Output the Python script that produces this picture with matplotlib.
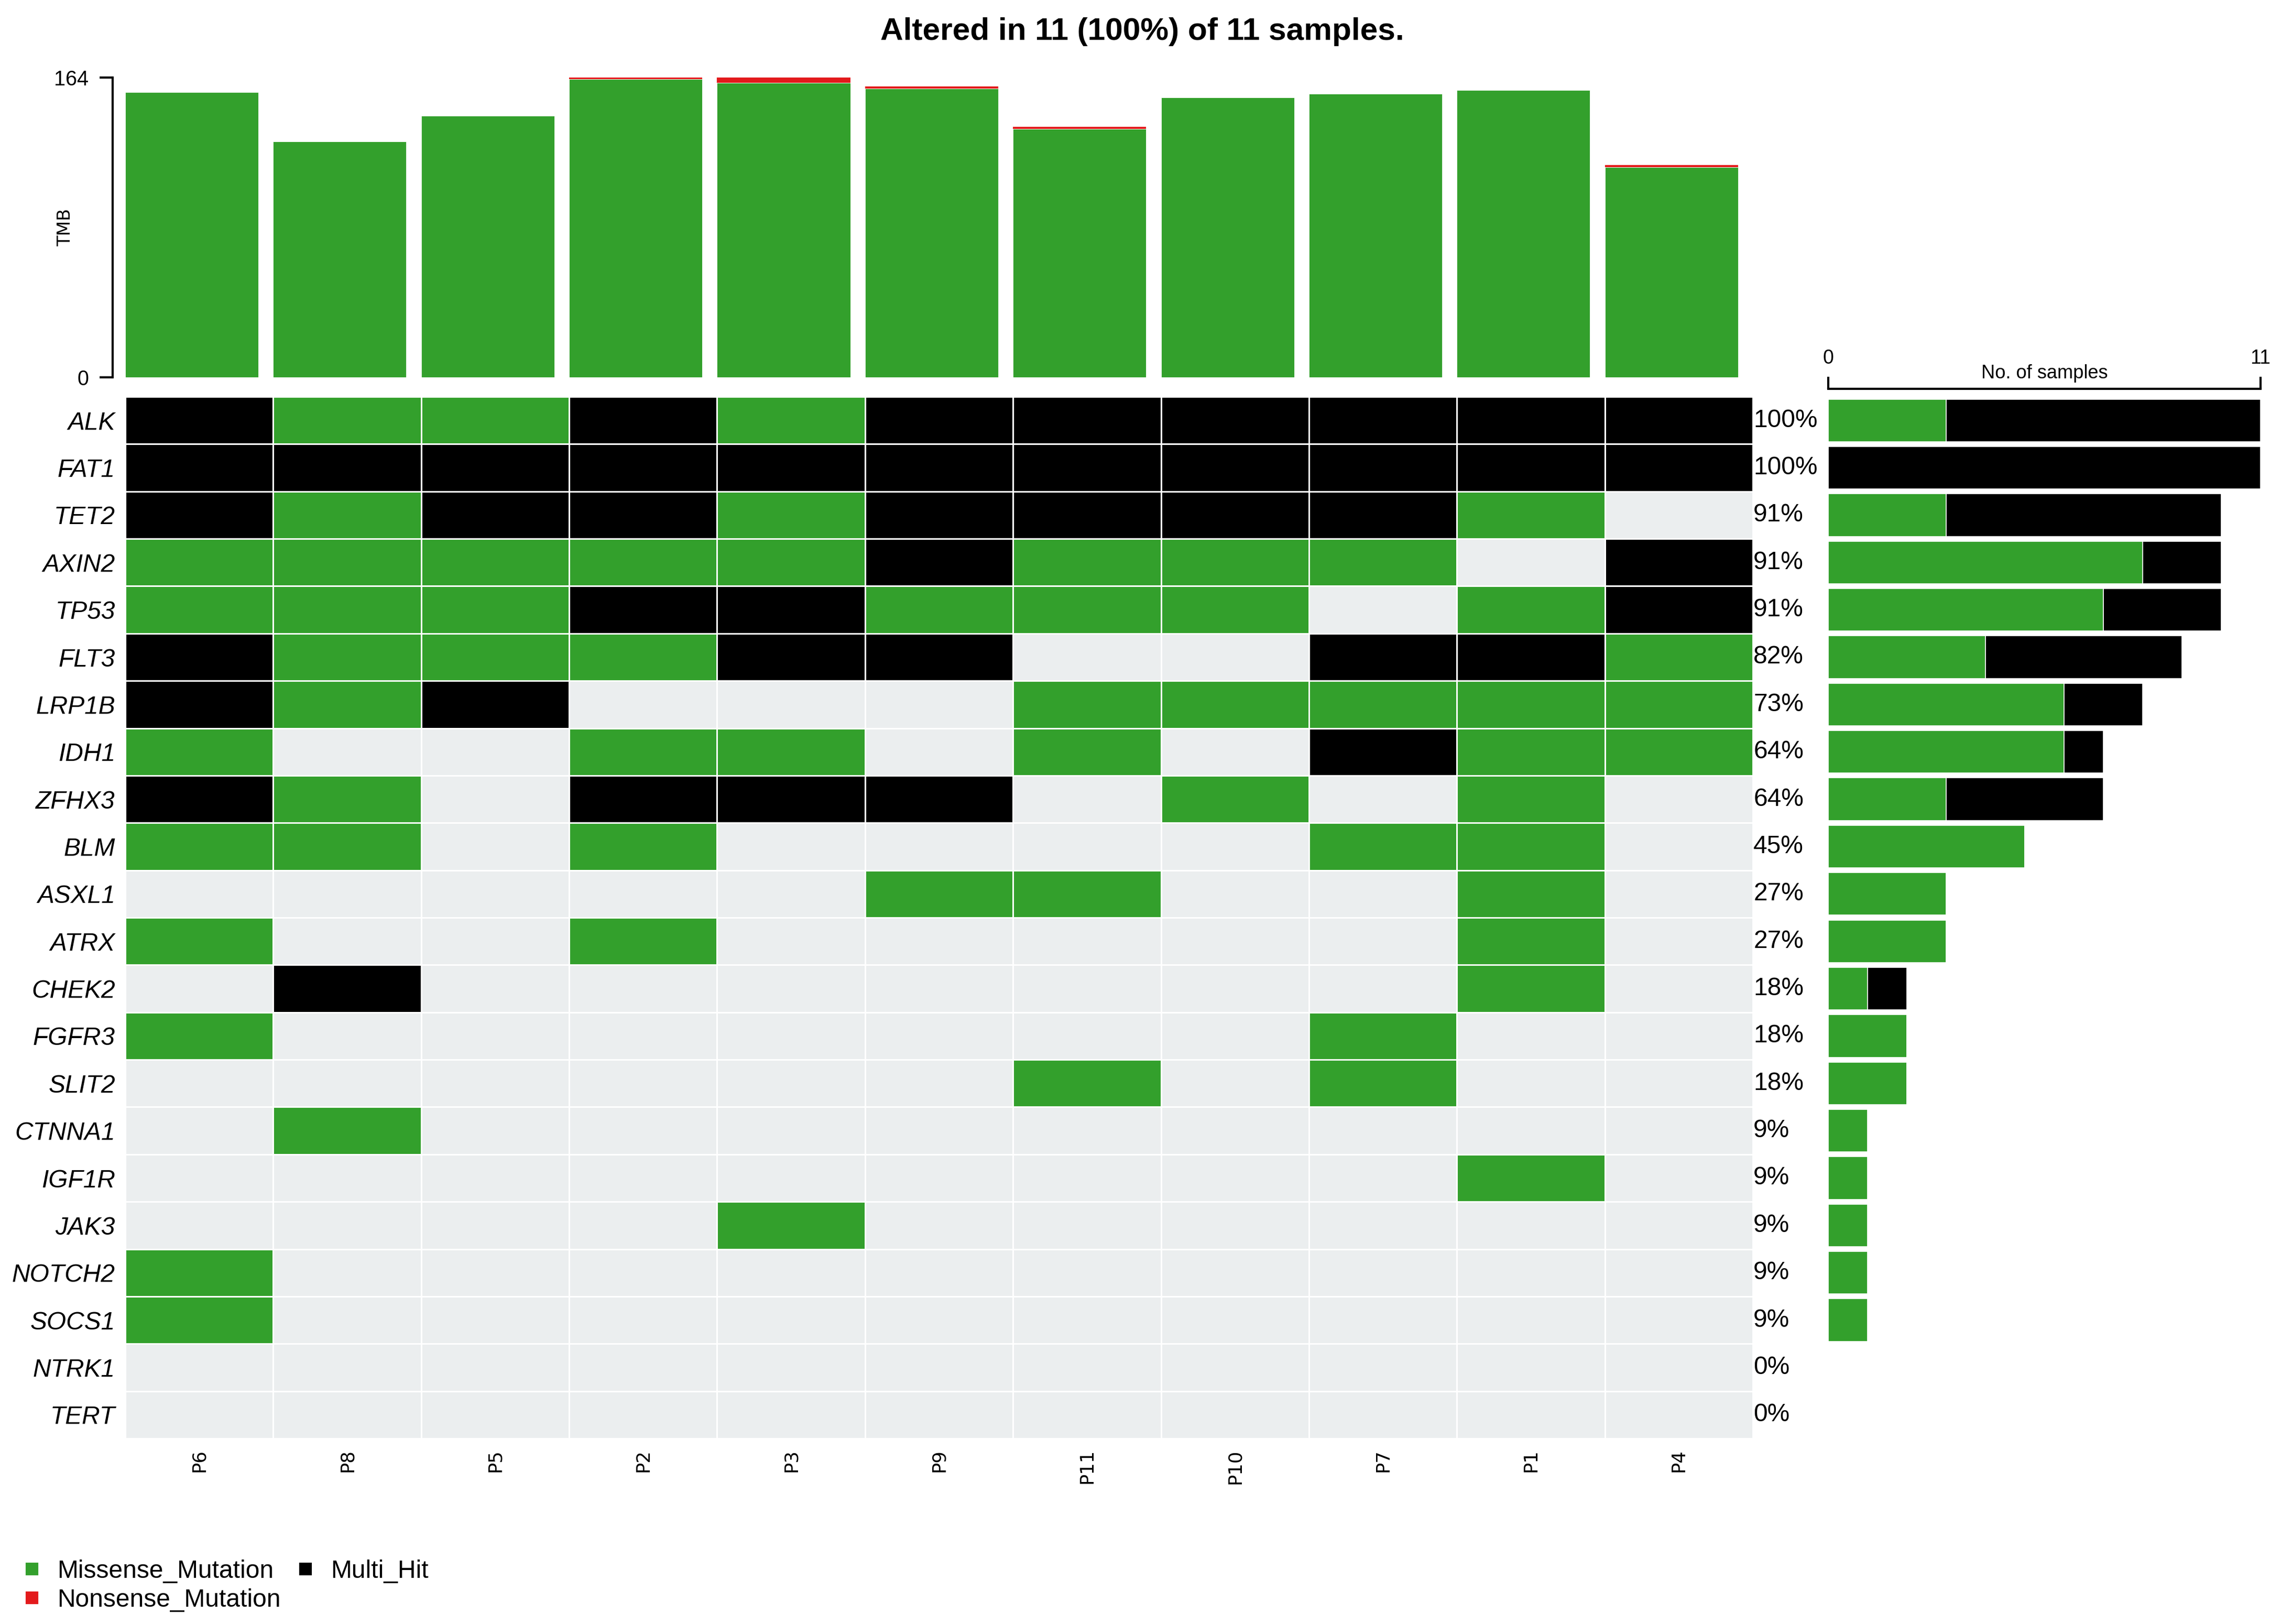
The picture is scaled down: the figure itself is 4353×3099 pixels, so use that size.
import numpy as np
import matplotlib
matplotlib.use('Agg')
import matplotlib.pyplot as plt
from matplotlib.colors import ListedColormap
from matplotlib.lines import Line2D

plt.rcParams['font.family'] = ['Liberation Sans', 'DejaVu Sans']

# oncoplot data (sample order as drawn)
samples = ['P6', 'P8', 'P5', 'P2', 'P3', 'P9', 'P11', 'P10', 'P7', 'P1', 'P4']
genes = ['ALK', 'FAT1', 'TET2', 'AXIN2', 'TP53', 'FLT3', 'LRP1B', 'IDH1', 'ZFHX3',
         'BLM', 'ASXL1', 'ATRX', 'CHEK2', 'FGFR3', 'SLIT2', 'CTNNA1', 'IGF1R',
         'JAK3', 'NOTCH2', 'SOCS1', 'NTRK1', 'TERT']
# M = Missense_Mutation, H = Multi_Hit, . = none
calls = ['HMMHMHHHHHH',
         'HHHHHHHHHHH',
         'HMHHMHHHHM.',
         'MMMMMHMMM.H',
         'MMMHHMMM.MH',
         'HMMMHH..HHM',
         'HMH...MMMMM',
         'M..MM.M.HMM',
         'HM.HHH.M.M.',
         'MM.M....MM.',
         '.....MM..M.',
         'M..M.....M.',
         '.H.......M.',
         'M.......M..',
         '......M.M..',
         '.M.........',
         '.........M.',
         '....M......',
         'M..........',
         'M..........',
         '...........',
         '...........']

tmb_missense = [156, 129, 143, 163, 161, 158, 136, 153, 155, 157, 115]
tmb_nonsense = [0, 0, 0, 1, 3, 1, 1, 0, 0, 0, 1]

green = '#33A02C'
red = '#E31A1C'
black = '#000000'
empty = '#EBEEEF'

code = {'.': 0, 'M': 1, 'H': 2}
mat = np.array([[code[c] for c in row] for row in calls])
n_miss = (mat == 1).sum(axis=1)
n_multi = (mat == 2).sum(axis=1)
n_samp = len(samples)

W, H = 4353, 3099
fig = plt.figure(figsize=(W / 300, H / 300), dpi=300)

def box(x0, y0, x1, y1):
    return [x0 / W, 1 - y1 / H, (x1 - x0) / W, (y1 - y0) / H]

# TMB bar panel
ax_tmb = fig.add_axes(box(239, 148, 3345, 720))
xs = np.arange(n_samp)
ax_tmb.bar(xs - 0.5, tmb_missense, width=0.9, align='edge', color=green,
           edgecolor='white', linewidth=0.2)
ax_tmb.bar(xs - 0.5, tmb_nonsense, bottom=tmb_missense, width=0.9, align='edge',
           color=red, edgecolor='none')
ax_tmb.set_xlim(-0.5, n_samp - 0.5)
ymax = max(np.array(tmb_missense) + np.array(tmb_nonsense))
ax_tmb.set_ylim(0, ymax)
ax_tmb.set_yticks([0, ymax])
ax_tmb.set_xticks([])
for s in ['top', 'right', 'bottom']:
    ax_tmb.spines[s].set_visible(False)
ax_tmb.spines['left'].set_position(('outward', 5.8))
ax_tmb.spines['left'].set_linewidth(1.0)
ax_tmb.tick_params(axis='y', length=6, width=1.0, pad=5, labelsize=9.5)
ax_tmb.text(-0.0367, 0.5, 'TMB', rotation=90, ha='center', va='center',
            transform=ax_tmb.transAxes, fontsize=8, family='DejaVu Sans')

# main oncoplot grid
ax = fig.add_axes(box(239, 757, 3345, 2745))
cmap = ListedColormap([empty, green, black])
ax.pcolormesh(np.arange(n_samp + 1) - 0.5, np.arange(len(genes) + 1) - 0.5, mat,
              cmap=cmap, vmin=0, vmax=2, edgecolors='white', linewidth=0.6)
ax.set_xlim(-0.5, n_samp - 0.5)
ax.set_ylim(len(genes) - 0.5, -0.5)
for s in ax.spines.values():
    s.set_visible(False)
ax.set_yticks(range(len(genes)))
ax.set_yticklabels(genes, fontsize=11.5, style='italic')
ax.set_xticks(range(n_samp))
ax.set_xticklabels(samples, rotation=90, fontsize=8.5, family='DejaVu Sans')
ax.tick_params(axis='y', length=0, pad=4.6)
ax.tick_params(axis='x', length=0, pad=4.8)
for i in range(len(genes)):
    pct = int(round((n_miss[i] + n_multi[i]) / n_samp * 100))
    ax.annotate('%d%%' % pct, xy=(n_samp - 0.5, i), xytext=(0.3, 0),
                textcoords='offset points', ha='left', va='center',
                fontsize=11.5, annotation_clip=False)

# right side: number of samples per gene
ax_r = fig.add_axes(box(3489, 757, 4314, 2745))
yy = np.arange(len(genes))
ax_r.barh(yy, n_miss, height=0.9, color=green, edgecolor='white', linewidth=0.4)
ax_r.barh(yy, n_multi, left=n_miss, height=0.9, color=black, edgecolor='white',
          linewidth=0.4)
ax_r.set_xlim(0, n_samp)
ax_r.set_ylim(len(genes) - 0.5, -0.5)
ax_r.set_yticks([])
for s in ['bottom', 'left', 'right']:
    ax_r.spines[s].set_visible(False)
ax_r.spines['top'].set_position(('outward', 3.6))
ax_r.spines['top'].set_linewidth(1.0)
ax_r.xaxis.tick_top()
ax_r.set_xticks([0, n_samp])
ax_r.tick_params(axis='x', direction='out', length=5.5, width=1.0, pad=4, labelsize=9)
ax_r.annotate('No. of samples', xy=(0.5, 1), xycoords='axes fraction',
              xytext=(0, 10.8), textcoords='offset points', ha='center',
              va='center', fontsize=8.7)

fig.text(2180 / W, 1 - 61 / H, 'Altered in 11 (100%) of 11 samples.',
         ha='center', va='center', fontsize=14.5, fontweight='bold')

handles = [Line2D([], [], marker='s', linestyle='', color=green, markersize=5),
           Line2D([], [], marker='s', linestyle='', color=red, markersize=5),
           Line2D([], [], marker='s', linestyle='', color=black, markersize=5)]
fig.legend(handles, ['Missense_Mutation', 'Nonsense_Mutation', 'Multi_Hit'],
           ncol=2, loc='center left', bbox_to_anchor=(13 / W, 1 - 3026 / H),
           frameon=False, fontsize=11.5, handlelength=1.0, handletextpad=0.5,
           labelspacing=0.2, columnspacing=0.5, borderpad=0.0)

fig.savefig('out.png', dpi=300, facecolor='white')
